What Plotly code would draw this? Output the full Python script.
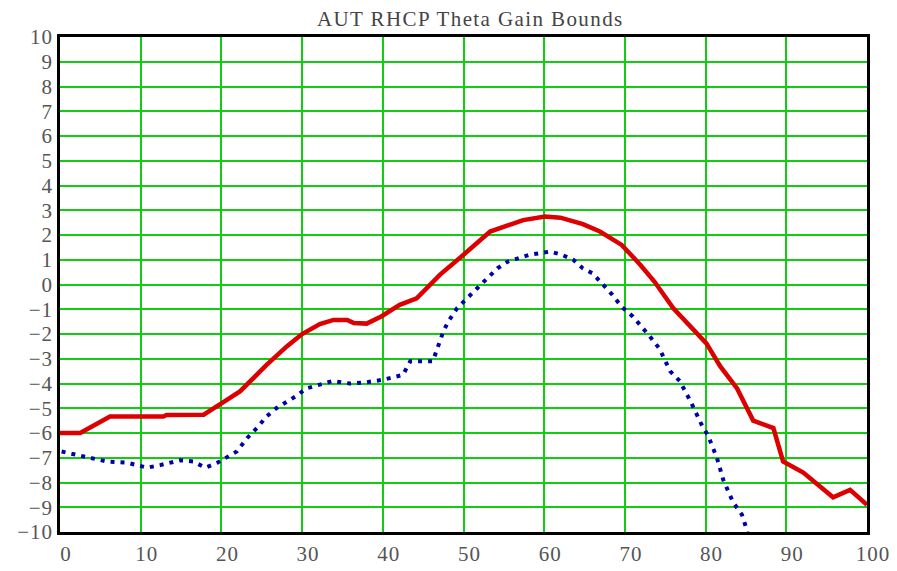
import plotly.graph_objects as go

title_text = "AUT RHCP Theta Gain Bounds"

upper_x = [0, 2.5, 6.2, 9.9, 12.8, 13.2, 17.8, 20, 22.3, 25.6, 28.1, 30, 32.2, 33.9, 35.6, 36.4, 38,
           39.8, 42.1, 44.2, 46.2, 47.1, 50, 53.3, 57.4, 60.1, 62, 64.8, 66.9, 69.6, 71.9, 73.7,
           76, 78.4, 80.1, 81.8, 83.9, 85.9, 88.4, 89.6, 92.1, 95.8, 97.9, 100]
upper_y = [-6.0, -6.0, -5.33, -5.35, -5.33, -5.27, -5.26, -4.8, -4.32, -3.25, -2.5, -2.0, -1.6, -1.43,
           -1.43, -1.56, -1.58, -1.29, -0.82, -0.56, 0.1, 0.4, 1.2, 2.14, 2.6, 2.75, 2.7, 2.44, 2.14,
           1.6, 0.8, 0.1, -0.96, -1.77, -2.38, -3.3, -4.2, -5.5, -5.8, -7.15, -7.6, -8.6, -8.3, -8.9]

lower_x = [0.2, 2.9, 5.8, 8.3, 10.8, 12.4, 14.9, 16.5, 18, 19.5, 21.9, 23.2, 24.4, 25.6, 26.8, 29.3,
           30.5, 33.8, 35.9, 38, 40, 42.5, 43.4, 46.2, 46.7, 47.5, 48.1, 49.2, 51.7, 52.9, 54.2, 55.5,
           58.2, 60.7, 62.2, 63.6, 64.8, 66, 67.3, 68.4, 69.6, 71, 73.1, 74.3, 75.6, 76.8, 78.1, 79.5,
           80.3, 81.4, 82.2, 83.4, 84.5, 85.2]
lower_y = [-6.75, -6.95, -7.15, -7.2, -7.4, -7.3, -7.1, -7.15, -7.4, -7.2, -6.75, -6.2, -5.8, -5.33,
           -5.0, -4.5, -4.2, -3.9, -4.0, -3.95, -3.85, -3.65, -3.1, -3.1, -2.6, -1.9, -1.5, -0.96,
           -0.15, 0.25, 0.65, 0.93, 1.2, 1.33, 1.2, 1.0, 0.65, 0.45, 0.0, -0.4, -0.9, -1.3, -2.1,
           -2.6, -3.5, -3.9, -4.7, -5.66, -6.1, -7.0, -7.9, -8.8, -9.3, -10.0]

x_ticks = list(range(0, 101, 10))
y_ticks = list(range(-10, 11, 1))


def spaced(s, px):
    return '<span style="letter-spacing:%spx">%s</span>' % (px, s)


x_ticktext = [spaced(str(v), 1) for v in x_ticks]
y_ticktext = [spaced(str(v).replace("-", "\u2212"), 1) for v in y_ticks]

fig = go.Figure()
fig.add_trace(go.Scatter(x=upper_x, y=upper_y, mode="lines",
                         line=dict(color="#dd0000", width=4.5), showlegend=False))
fig.add_trace(go.Scatter(x=lower_x, y=lower_y, mode="lines",
                         line=dict(color="#0000aa", width=4, dash="4px,6px"), showlegend=False))

font_family = "Liberation Serif, Times New Roman, serif"
fig.update_layout(
    width=889, height=563,
    margin=dict(l=52, r=30, t=29, b=39),
    paper_bgcolor="white", plot_bgcolor="white",
    title=dict(text=spaced(title_text, 1.4), x=0.52, xref="container", xanchor="center",
               y=1 - 10.5 / 563, yref="container", yanchor="middle",
               font=dict(family=font_family, size=21, color="#444444")),
    xaxis=dict(range=[0, 100], tickvals=x_ticks, ticktext=x_ticktext, showgrid=True,
               gridcolor="#11cc11", gridwidth=2,
               zeroline=False, showline=True, linecolor="black", linewidth=2.5, mirror=True,
               ticks="", ticklabelshift=6, ticklabelstandoff=1, automargin=False,
               ticklabeloverflow="allow",
               tickfont=dict(family=font_family, size=21, color="#555555")),
    yaxis=dict(range=[-10, 10], tickvals=y_ticks, ticktext=y_ticktext, showgrid=True,
               gridcolor="#11cc11", gridwidth=2,
               zeroline=False, showline=True, linecolor="black", linewidth=2.5, mirror=True,
               ticks="", ticklabelstandoff=0, automargin=False,
               tickfont=dict(family=font_family, size=21, color="#555555")),
)

fig.write_html("out.html")
